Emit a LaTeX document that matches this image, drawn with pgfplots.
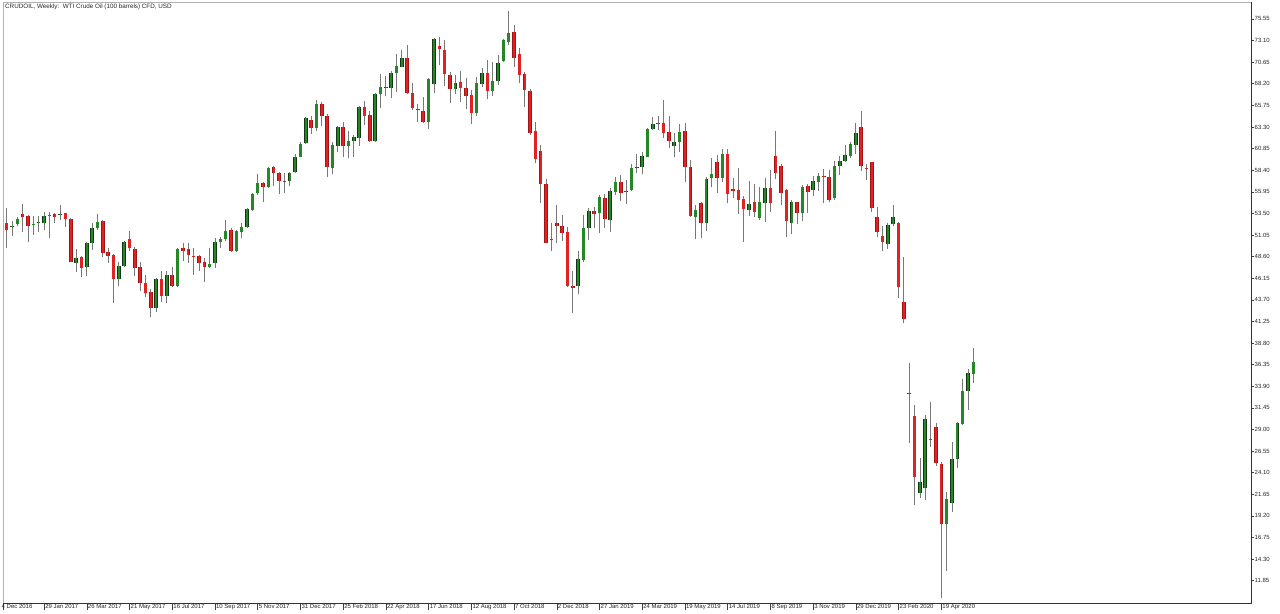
\documentclass[border=0pt]{standalone}
\usepackage{pgfplots}
\pgfplotsset{compat=1.18}
\usepackage{pgfplotstable}
\usepackage{fontspec}
\setmainfont{Liberation Sans}
\definecolor{bullfill}{RGB}{38,135,38}
\definecolor{bullline}{RGB}{20,55,20}
\definecolor{bearfill}{RGB}{224,34,34}
\definecolor{bearline}{RGB}{160,20,20}
\definecolor{wickc}{RGB}{120,120,120}
\pgfplotstableread{
w O H L C
1 52.37 54.07 49.54 51.62
2 51.92 52.64 50.98 52.11
3 52.26 53.05 52.07 52.83
4 53.43 54.57 51.43 53.05
5 53.21 53.32 50.22 52.11
6 52.25 53.21 51.05 52.35
7 52.38 53.21 51.35 52.48
8 52.37 53.70 51.62 53.21
9 53.25 53.70 50.67 53.35
10 53.39 53.51 52.45 53.09
11 53.37 54.45 52.75 53.47
12 53.51 53.58 52.00 52.83
13 52.83 52.94 47.95 48.03
14 47.91 49.43 46.89 48.48
15 48.52 48.67 46.33 47.35
16 47.38 50.29 46.40 50.18
17 50.11 52.45 49.35 51.84
18 51.81 53.39 51.62 52.56
19 52.68 52.75 48.59 49.05
20 49.16 49.54 47.84 48.67
21 48.78 48.90 43.38 46.06
22 46.02 48.03 45.27 47.57
23 47.57 50.41 47.46 50.29
24 50.60 51.54 49.27 49.54
25 49.50 49.73 46.40 47.35
26 47.38 48.03 44.74 45.65
27 45.57 46.51 43.98 44.44
28 44.55 44.89 41.71 42.73
29 42.73 46.14 42.36 46.02
30 46.02 47.01 43.49 44.13
31 44.13 47.01 43.38 46.48
32 46.48 47.46 45.12 45.27
33 45.27 49.54 45.12 49.50
34 49.58 50.11 48.14 49.27
35 49.46 50.11 47.84 48.78
36 48.63 49.54 46.51 48.56
37 48.71 48.78 46.97 47.84
38 47.99 48.40 45.76 47.46
39 47.46 49.54 47.35 47.72
40 47.84 50.67 47.35 50.22
41 50.22 50.86 49.54 50.60
42 50.56 52.75 50.41 51.54
43 51.62 51.81 49.16 49.27
44 49.27 51.62 49.16 51.50
45 51.43 52.37 50.67 51.92
46 51.92 54.15 51.81 54.00
47 53.89 55.78 53.81 55.66
48 55.85 57.93 55.59 56.91
49 56.91 57.10 54.76 56.53
50 56.53 58.80 56.42 58.69
51 58.72 58.88 56.65 58.12
52 58.12 58.23 55.66 57.17
53 57.16 58.04 55.85 57.06
54 57.17 58.23 56.65 58.12
55 58.16 60.24 58.12 59.93
56 59.93 61.63 59.86 61.33
57 61.45 64.47 61.33 64.28
58 64.09 64.58 62.50 63.22
59 63.22 66.36 62.84 65.87
60 65.87 66.17 63.41 64.55
61 64.58 64.77 57.67 58.72
62 58.69 61.63 57.93 61.26
63 61.18 63.41 60.50 63.30
64 63.30 63.90 59.86 61.14
65 61.14 62.84 59.74 61.75
66 61.75 62.39 59.93 62.13
67 62.09 65.68 61.18 65.60
68 65.53 66.25 63.52 64.58
69 64.66 65.15 61.63 61.71
70 61.75 67.19 61.60 67.04
71 67.00 69.31 65.41 67.80
72 67.74 69.08 66.81 67.84
73 67.76 69.69 66.55 69.46
74 69.46 71.58 67.30 70.25
75 70.14 72.03 70.06 71.16
76 71.16 72.60 67.04 67.12
77 67.12 68.33 65.23 65.41
78 65.36 65.91 63.90 65.26
79 65.15 66.74 63.79 63.87
80 63.87 68.82 63.07 68.70
81 68.14 73.35 67.12 73.28
82 72.45 73.54 70.33 72.11
83 72.03 73.16 67.95 69.31
84 69.19 69.57 65.98 67.57
85 67.57 69.19 67.00 68.33
86 68.36 69.65 66.17 67.76
87 67.68 68.82 65.34 66.85
88 66.93 67.49 63.64 64.92
89 64.92 68.93 64.58 68.33
90 68.17 69.95 67.80 69.46
91 69.46 70.90 66.44 67.42
92 67.42 70.71 66.85 68.51
93 68.51 71.46 68.06 70.52
94 70.82 73.24 70.71 73.16
95 72.90 76.49 72.60 74.00
96 74.11 74.86 70.14 71.08
97 71.58 72.29 68.25 69.19
98 69.31 69.57 65.60 67.49
99 67.42 67.57 62.39 62.58
100 62.84 63.90 59.18 59.67
101 60.61 61.26 54.72 56.83
102 56.80 57.36 50.11 50.18
103 50.54 52.45 49.27 50.44
104 52.37 54.45 50.11 52.11
105 52.07 53.32 50.37 51.32
106 51.43 52.00 45.12 45.27
107 45.31 47.01 42.24 45.00
108 45.27 49.27 44.36 48.33
109 48.22 53.32 48.03 51.81
110 51.81 54.07 50.48 53.81
111 53.81 54.26 51.81 53.39
112 53.51 55.59 51.24 55.40
113 55.28 55.70 51.88 52.83
114 52.75 56.34 51.43 56.04
115 55.96 57.67 55.59 57.10
116 57.02 57.85 54.94 55.78
117 56.04 57.29 54.57 55.89
118 56.15 59.10 56.08 58.61
119 58.61 60.20 58.04 58.72
120 58.72 60.50 57.97 60.01
121 59.93 63.22 59.86 63.03
122 63.03 64.47 62.96 63.64
123 63.80 64.55 62.96 63.70
124 63.79 66.36 62.01 62.58
125 62.69 64.55 60.88 61.71
126 61.18 62.58 59.86 61.63
127 61.56 63.60 60.50 62.69
128 62.88 63.71 57.10 58.80
129 58.72 59.56 53.13 53.21
130 53.13 54.45 50.56 53.89
131 54.64 54.83 50.67 52.45
132 52.45 57.67 51.54 57.40
133 57.55 59.74 56.46 57.97
134 59.37 60.12 55.85 57.55
135 57.55 60.77 57.10 60.20
136 60.20 60.77 54.64 55.70
137 56.23 57.48 55.21 56.04
138 56.15 58.61 53.43 55.02
139 55.13 55.47 50.29 53.96
140 53.89 57.21 53.21 54.57
141 54.76 56.83 53.13 53.70
142 53.02 56.53 52.75 54.83
143 54.64 57.48 52.56 56.42
144 56.42 58.42 53.70 54.64
145 60.01 62.88 57.36 58.12
146 58.91 59.10 54.45 55.85
147 56.15 56.27 50.79 52.64
148 52.45 55.02 51.16 54.76
149 54.76 54.83 52.30 53.58
150 53.51 56.72 52.68 56.46
151 56.61 56.83 53.58 55.93
152 56.15 57.74 55.51 57.21
153 57.10 58.12 56.08 57.74
154 57.76 58.50 54.64 57.66
155 57.67 58.42 54.83 55.02
156 55.21 59.48 55.02 58.88
157 58.88 60.01 57.85 59.48
158 59.48 61.26 59.37 60.12
159 60.01 61.63 59.82 61.37
160 61.26 63.71 60.24 62.66
161 63.34 65.15 58.35 58.88
162 58.67 59.10 57.29 58.57
163 59.29 59.37 53.70 54.07
164 53.05 54.19 50.86 51.43
165 50.98 52.07 49.27 50.29
166 50.03 52.37 49.43 52.19
167 52.30 54.45 52.07 53.13
168 52.37 52.56 43.87 45.12
169 43.49 48.59 41.03 41.49
170 33.12 36.50 27.50 33.02
171 30.53 31.77 20.43 23.57
172 21.76 25.72 21.19 23.08
173 22.32 30.64 21.00 30.19
174 27.90 32.15 27.05 27.80
175 29.24 29.69 24.86 25.23
176 25.08 25.35 9.85 18.28
177 18.28 21.94 12.99 21.08
178 20.62 27.61 19.68 25.65
179 25.61 29.88 24.59 29.77
180 29.62 34.68 29.50 33.40
181 33.40 35.82 31.21 35.44
182 35.29 38.20 34.31 36.61
}\data
\begin{document}
\begin{tikzpicture}
\useasboundingbox (0,0) rectangle (1280bp,614bp);
\begin{axis}[
  at={(3bp,11bp)}, anchor=south west,
  scale only axis, width=1248bp, height=601bp,
  xmin=0.31, xmax=234.0, ymin=9.32, ymax=77.47,
  clip mode=individual,
  axis line style={black!30, line width=0.6bp},
  tick align=outside,
  xtick pos=left, ytick pos=right,
  xticklabel pos=left, yticklabel pos=right,
  major tick length=3bp,
  tick style={black!75, line width=0.5bp},
  xtick style={/pgfplots/major tick length=7bp},
  ticklabel style={font=\fontsize{6bp}{7bp}\selectfont, text=black!85},
  xtick={8,16,...,176},
  xticklabels={29 Jan 2017,26 Mar 2017,21 May 2017,16 Jul 2017,10 Sep 2017,5 Nov 2017,31 Dec 2017,25 Feb 2018,22 Apr 2018,17 Jun 2018,12 Aug 2018,7 Oct 2018,2 Dec 2018,27 Jan 2019,24 Mar 2019,19 May 2019,14 Jul 2019,8 Sep 2019,3 Nov 2019,29 Dec 2019,23 Feb 2020,19 Apr 2020},
  extra x ticks={0.31},
  extra x tick labels={4 Dec 2016},
  extra x tick style={xticklabel style={xshift=-2.5bp}},
  x tick label style={anchor=north west, inner sep=0pt, xshift=1bp, yshift=2bp},
  ytick={75.55,73.10,70.65,68.20,65.75,63.30,60.85,58.40,55.95,53.50,51.05,48.60,46.15,43.70,41.25,38.80,36.35,33.90,31.45,29.00,26.55,24.10,21.65,19.20,16.75,14.30,11.85},
  yticklabels={75.55,73.10,70.65,68.20,65.75,63.30,60.85,58.40,55.95,53.50,51.05,48.60,46.15,43.70,41.25,38.80,36.35,33.90,31.45,29.00,26.55,24.10,21.65,19.20,16.75,14.30,11.85},
  y tick label style={anchor=west, inner sep=0pt, xshift=0.5bp},
  candle/.style={only marks, forget plot, mark size=0pt,
    mark options={draw opacity=0, fill opacity=0}},
]
% wicks
\addplot[candle,
  error bars/.cd, y dir=plus, y explicit, error mark=none,
  error bar style={wickc, line width=0.8bp}]
  table[x=w, y=L, y error expr=\thisrow{H}-\thisrow{L}] {\data};
% bull bodies
\addplot[candle,
  y filter/.expression={\thisrow{C}>=\thisrow{O} ? y : nan},
  error bars/.cd, y dir=plus, y explicit, error mark=none,
  error bar style={bullline, line width=3.5bp}]
  table[x=w, y=O, y error expr=\thisrow{C}-\thisrow{O}] {\data};
\addplot[candle,
  y filter/.expression={\thisrow{C}>=\thisrow{O} ? y : nan},
  error bars/.cd, y dir=plus, y explicit, error mark=none,
  error bar style={bullfill, line width=2.4bp}]
  table[x=w, y=O, y error expr=\thisrow{C}-\thisrow{O}] {\data};
% bear bodies
\addplot[candle,
  y filter/.expression={\thisrow{C}<\thisrow{O} ? y : nan},
  error bars/.cd, y dir=plus, y explicit, error mark=none,
  error bar style={bearline, line width=3.5bp}]
  table[x=w, y=C, y error expr=\thisrow{O}-\thisrow{C}] {\data};
\addplot[candle,
  y filter/.expression={\thisrow{C}<\thisrow{O} ? y : nan},
  error bars/.cd, y dir=plus, y explicit, error mark=none,
  error bar style={bearfill, line width=2.4bp}]
  table[x=w, y=C, y error expr=\thisrow{O}-\thisrow{C}] {\data};
\draw[black!80, line width=0.8bp] (rel axis cs:0,0) -- (rel axis cs:1,0) -- (rel axis cs:1,1);
\node[anchor=west, inner sep=0pt, font=\fontsize{6.3bp}{7bp}\selectfont, text=black!85]
  at (rel axis cs:0,1) [xshift=2bp, yshift=-5bp] {CRUDOIL, Weekly:\ \ WTI Crude Oil (100 barrels) CFD, USD};
\end{axis}
\end{tikzpicture}
\end{document}
